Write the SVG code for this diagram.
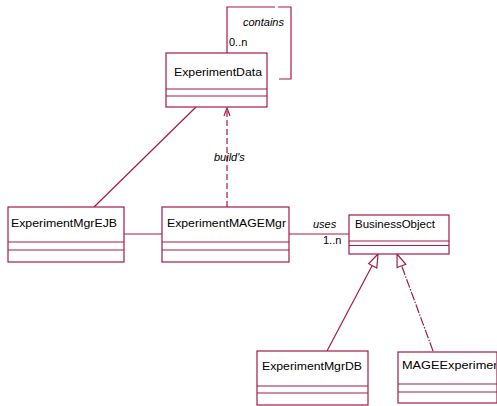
<svg xmlns="http://www.w3.org/2000/svg" width="497" height="406" viewBox="0 0 497 406">
  <style>
    .box { fill: #ffffff; stroke: #a3194b; stroke-width: 1.2; }
    .sep { stroke: #a3194b; stroke-width: 1.2; }
    .name { font-family: "Liberation Sans", Arial, sans-serif; font-size: 11.5px; fill: #000000; }
    .lbl { font-family: "Liberation Sans", Arial, sans-serif; font-size: 11px; fill: #000000; }
    .it { font-style: italic; }
    .edge { fill: none; stroke: #a3194b; stroke-width: 1.2; }
    .dash { stroke-dasharray: 6 3; }
    .tri { fill: #ffffff; stroke: #a3194b; stroke-width: 1.2; }
  </style>
  <defs>
    <clipPath id="clipMage">
      <rect x="398" y="352" width="98" height="51"/>
    </clipPath>
  </defs>

  <!-- connectors -->
  <g id="connectors">
    <!-- self association "contains" on ExperimentData -->
    <polyline class="edge" points="227,53 227,7 275,7"/>
    <polyline class="edge" points="278,7 291,7 291,79 279,79"/>
    <text class="lbl it" x="243" y="26">contains</text>
    <text class="lbl" x="229" y="46">0..n</text>

    <!-- ExperimentMgrEJB to ExperimentData -->
    <line class="edge" x1="196" y1="107" x2="94" y2="207"/>

    <!-- ExperimentMAGEMgr builds ExperimentData (dependency) -->
    <line class="edge dash" x1="227" y1="207" x2="227" y2="108"/>
    <polyline class="edge" points="224,116 227,108 230,116"/>
    <text class="lbl it" x="214" y="161">build's</text>

    <!-- ExperimentMgrEJB to ExperimentMAGEMgr -->
    <line class="edge" x1="124" y1="234" x2="162" y2="234"/>

    <!-- ExperimentMAGEMgr uses BusinessObject -->
    <line class="edge" x1="289" y1="234" x2="349" y2="234"/>
    <text class="lbl it" x="313" y="228">uses</text>
    <text class="lbl" x="323" y="244">1..n</text>

    <!-- generalizations to BusinessObject -->
    <line class="edge" x1="327" y1="351" x2="373" y2="264"/>
    <polygon class="tri" points="378,254 376.8,268 368.7,263.7"/>
    <line class="edge" x1="433" y1="351" x2="401" y2="264" stroke-dasharray="9 1.5 1.5 1.5"/>
    <polygon class="tri" points="397,254 405.8,264.3 397.1,267.5"/>
  </g>

  <!-- classes -->
  <g id="ExperimentData">
    <rect class="box" x="166" y="53" width="101" height="54"/>
    <line class="sep" x1="166" y1="89" x2="267" y2="89"/>
    <line class="sep" x1="166" y1="96" x2="267" y2="96"/>
    <text class="name" x="174" y="76" textLength="88" lengthAdjust="spacingAndGlyphs">ExperimentData</text>
  </g>

  <g id="ExperimentMgrEJB">
    <rect class="box" x="8" y="207" width="116" height="55"/>
    <line class="sep" x1="8" y1="242" x2="124" y2="242"/>
    <line class="sep" x1="8" y1="250" x2="124" y2="250"/>
    <text class="name" x="11" y="227" textLength="106" lengthAdjust="spacingAndGlyphs">ExperimentMgrEJB</text>
  </g>

  <g id="ExperimentMAGEMgr">
    <rect class="box" x="162" y="207" width="127" height="55"/>
    <line class="sep" x1="162" y1="242" x2="289" y2="242"/>
    <line class="sep" x1="162" y1="250" x2="289" y2="250"/>
    <text class="name" x="167" y="227" textLength="119" lengthAdjust="spacingAndGlyphs">ExperimentMAGEMgr</text>
  </g>

  <g id="BusinessObject">
    <rect class="box" x="349" y="215" width="100" height="39"/>
    <line class="sep" x1="349" y1="241" x2="449" y2="241"/>
    <line class="sep" x1="349" y1="245.5" x2="449" y2="245.5"/>
    <text class="name" x="355" y="228">BusinessObject</text>
  </g>

  <g id="ExperimentMgrDB">
    <rect class="box" x="257" y="351" width="111" height="54"/>
    <line class="sep" x1="257" y1="386" x2="368" y2="386"/>
    <line class="sep" x1="257" y1="393" x2="368" y2="393"/>
    <text class="name" x="262" y="370" textLength="100" lengthAdjust="spacingAndGlyphs">ExperimentMgrDB</text>
  </g>

  <g id="MAGEExperiment">
    <rect class="box" x="398" y="352" width="99" height="51"/>
    <line class="sep" x1="398" y1="384" x2="497" y2="384"/>
    <line class="sep" x1="398" y1="392" x2="497" y2="392"/>
    <text class="name" x="402" y="369" textLength="102" lengthAdjust="spacingAndGlyphs" clip-path="url(#clipMage)">MAGEExperiment</text>
  </g>
</svg>
